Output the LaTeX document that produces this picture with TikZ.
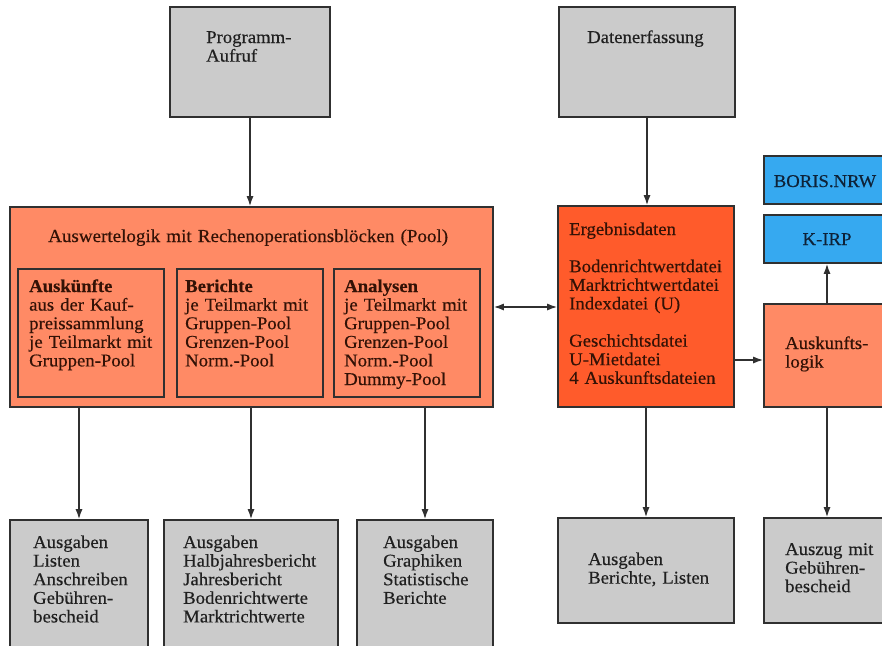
\documentclass[tikz,border=0pt]{standalone}
\usepackage{fontspec}
\setmainfont{Liberation Serif}[FakeStretch=1.04, FakeBold=0.4]
\usetikzlibrary{arrows.meta}
\definecolor{boxgray}{HTML}{CBCBCB}
\definecolor{salmon}{HTML}{FF8A65}
\definecolor{ergred}{HTML}{FF5B2B}
\definecolor{skyblue}{HTML}{36A9F0}
\definecolor{edge}{HTML}{303030}
\definecolor{txt}{HTML}{202020}
\definecolor{txtbrown}{HTML}{331206}
\definecolor{txtblue}{HTML}{0E2238}
\tikzset{
  x=1pt, y=-1pt,
  box/.style={draw=edge, line width=1.6pt, rectangle, inner sep=0pt},
  graybox/.style={box, fill=boxgray},
  salmonbox/.style={box, fill=salmon},
  ergbox/.style={box, fill=ergred},
  bluebox/.style={box, fill=skyblue},
  lbl/.style={anchor=base west, inner sep=0pt, text width=175pt, align=left,
    font=\fontsize{18}{18.6}\selectfont, text=txt},
  clbl/.style={anchor=base, inner sep=0pt,
    font=\fontsize{18}{18.6}\selectfont, text=txtblue},
  conn/.style={draw=edge, line width=1.4pt, -{Latex[length=10pt,width=7pt]}},
  dconn/.style={draw=edge, line width=1.4pt, {Latex[length=10pt,width=7pt]}-{Latex[length=10pt,width=7pt]}}
}
\begin{document}
\begin{tikzpicture}
\useasboundingbox (0,0) rectangle (882,645);
\clip (0,0) rectangle (882,645);
\fill[white] (0,0) rectangle (882,645);

% boxes as nodes (center, size)
\node[graybox, minimum width=160pt, minimum height=110pt] (prog) at (250,62) {};
\node[graybox, minimum width=176pt, minimum height=110pt] (daten) at (647,62) {};
\node[salmonbox, minimum width=483pt, minimum height=200pt] (main) at (251.5,307) {};
\node[salmonbox, minimum width=146pt, minimum height=128pt] (ausk) at (91,333) {};
\node[salmonbox, minimum width=146pt, minimum height=128pt] (ber) at (250,333) {};
\node[salmonbox, minimum width=146pt, minimum height=128pt] (ana) at (407,333) {};
\node[ergbox, minimum width=176pt, minimum height=201pt] (erg) at (646,306.5) {};
\node[bluebox, minimum width=126pt, minimum height=48pt] (boris) at (827,180) {};
\node[bluebox, minimum width=126pt, minimum height=48pt] (kirp) at (827,239) {};
\node[salmonbox, minimum width=126pt, minimum height=103pt] (alog) at (827,355.5) {};
\node[graybox, minimum width=138pt, minimum height=140pt] (out1) at (79,590) {};
\node[graybox, minimum width=174pt, minimum height=140pt] (out2) at (251,590) {};
\node[graybox, minimum width=136pt, minimum height=140pt] (out3) at (425,590) {};
\node[graybox, minimum width=176pt, minimum height=105pt] (out4) at (646,570.5) {};
\node[graybox, minimum width=126pt, minimum height=105pt] (out5) at (827,570.5) {};

% texts
\node[lbl] (tprog) at (206,43) {Programm-\\Aufruf};
\node[lbl] (tdaten) at (587,43) {Datenerfassung};
\node[lbl, text=txtbrown, text width=440pt, font=\fontsize{18.3}{18.6}\selectfont] (tmain) at (48,242) {Auswertelogik mit Rechenoperationsblöcken (Pool)};
\node[lbl, text=txtbrown] (tausk) at (29,292) {\textbf{Auskünfte}\\aus der Kauf-\\preissammlung\\je Teilmarkt mit\\Gruppen-Pool};
\node[lbl, text=txtbrown] (tber) at (185,292) {\textbf{Berichte}\\je Teilmarkt mit\\Gruppen-Pool\\Grenzen-Pool\\Norm.-Pool};
\node[lbl, text=txtbrown] (tana) at (344,292) {\textbf{Analysen}\\je Teilmarkt mit\\Gruppen-Pool\\Grenzen-Pool\\Norm.-Pool\\Dummy-Pool};
\node[lbl, text=txtbrown] (terg) at (569,235) {Ergebnisdaten\\[18.6pt]Bodenrichtwertdatei\\Marktrichtwertdatei\\Indexdatei (U)\\[18.6pt]Geschichtsdatei\\U-Mietdatei\\4 Auskunftsdateien};
\node[clbl] (tboris) at (825,187) {BORIS.NRW};
\node[clbl] (tkirp) at (827,245) {K-IRP};
\node[lbl, text=txtbrown] (talog) at (785,349) {Auskunfts-\\logik};
\node[lbl] (tout1) at (33,548) {Ausgaben\\Listen\\Anschreiben\\Gebühren-\\bescheid};
\node[lbl] (tout2) at (183,548) {Ausgaben\\Halbjahresbericht\\Jahresbericht\\Bodenrichtwerte\\Marktrichtwerte};
\node[lbl] (tout3) at (383,548) {Ausgaben\\Graphiken\\Statistische\\Berichte};
\node[lbl] (tout4) at (588,565) {Ausgaben\\Berichte, Listen};
\node[lbl] (tout5) at (785,555) {Auszug mit\\Gebühren-\\bescheid};

% connectors
\draw[conn] (prog.south) -- (prog.south |- main.north);
\draw[conn] (daten.south) -- (daten.south |- erg.north);
\draw[dconn] (main.east |- 0,307) -- (erg.west |- 0,307);
\draw[conn] (erg.east |- 0,360) -- (alog.west |- 0,360);
\draw[conn] (alog.north) -- (kirp.south);
\draw[conn] (main.south -| out1.north) -- (out1.north);
\draw[conn] (main.south -| out2.north) -- (out2.north);
\draw[conn] (main.south -| out3.north) -- (out3.north);
\draw[conn] (erg.south -| out4.north) -- (out4.north);
\draw[conn] (alog.south) -- (out5.north);
\end{tikzpicture}
\end{document}
